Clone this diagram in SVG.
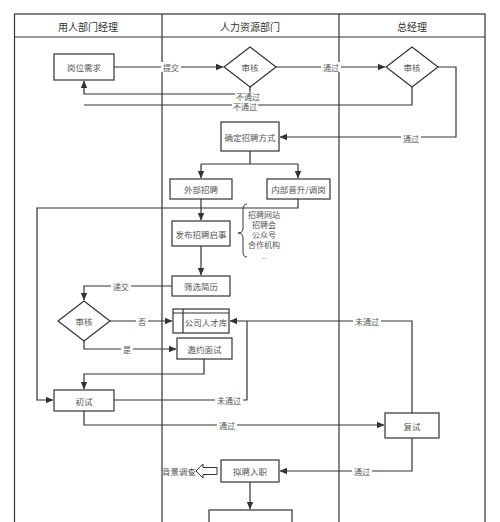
<svg xmlns="http://www.w3.org/2000/svg" width="500" height="522" viewBox="0 0 500 522">
<style>
.frame{fill:none;stroke:#333;stroke-width:1.2}
.node{fill:#fff;stroke:#333;stroke-width:1.2}
.t{font-family:"Noto Sans CJK SC","Noto Sans",sans-serif;font-size:8.5px;fill:#555;text-anchor:middle;dominant-baseline:central}
.s{font-family:"Noto Sans CJK SC","Noto Sans",sans-serif;font-size:8px;fill:#555;text-anchor:middle;dominant-baseline:central}
.h{font-family:"Noto Sans CJK SC","Noto Sans",sans-serif;font-size:10px;fill:#333;text-anchor:middle;dominant-baseline:central}
.c{fill:none;stroke:#333;stroke-width:1.2}
.lbl{font-family:"Noto Sans CJK SC","Noto Sans",sans-serif;font-size:8px;fill:#555;text-anchor:middle;dominant-baseline:central}
.lb{fill:#fff}
</style>
<defs>
<marker id="a" markerWidth="8" markerHeight="8" refX="7" refY="4" orient="auto" markerUnits="userSpaceOnUse">
<path d="M0,0.8 L7.5,4 L0,7.2 Z" fill="#333"/>
</marker>
</defs>
<rect width="500" height="522" fill="#fff"/>
<g id="lanes">
<rect class="frame" x="14.5" y="14" width="470.5" height="520"/>
<line class="frame" x1="14.5" y1="37" x2="485" y2="37"/>
<line class="frame" x1="162" y1="14" x2="162" y2="522"/>
<line class="frame" x1="339" y1="14" x2="339" y2="522"/>
<text class="h" x="88" y="26">用人部门经理</text>
<text class="h" x="250" y="26">人力资源部门</text>
<text class="h" x="412" y="26">总经理</text>
</g>
<g id="connectors">
<path class="c" d="M114,67 L223,67" marker-end="url(#a)"/>
<path class="c" d="M276,67 L385,67" marker-end="url(#a)"/>
<path class="c" d="M250,87 L250,94 L84,94 L84,81" marker-end="url(#a)"/>
<path class="c" d="M412,87 L412,105 L84,105"/>
<path class="c" d="M438,67 L456,67 L456,137 L280,137" marker-end="url(#a)"/>
<path class="c" d="M250,151 L250,164 M201,164 L298,164"/>
<path class="c" d="M201,164 L201,178" marker-end="url(#a)"/>
<path class="c" d="M298,164 L298,178" marker-end="url(#a)"/>
<path class="c" d="M201,199 L201,220" marker-end="url(#a)"/>
<path class="c" d="M298,199 L298,208 L37,208 L37,400 L53,400" marker-end="url(#a)"/>
<path class="c" d="M201,246 L201,275" marker-end="url(#a)"/>
<path class="c" d="M172,286 L84,286 L84,300" marker-end="url(#a)"/>
<path class="c" d="M110,321 L172,321" marker-end="url(#a)"/>
<path class="c" d="M84,341 L84,349 L176,349" marker-end="url(#a)"/>
<path class="c" d="M204,359 L204,374 L84,374 L84,389" marker-end="url(#a)"/>
<path class="c" d="M114,400 L247,400 L247,321"/>
<path class="c" d="M412,413 L412,321 L230,321" marker-end="url(#a)"/>
<path class="c" d="M84,411 L84,425 L384,425" marker-end="url(#a)"/>
<path class="c" d="M412,438 L412,471 L280,471" marker-end="url(#a)"/>
<path class="c" d="M250,482 L250,509" marker-end="url(#a)"/>
<path d="M217,467.5 L203,467.5 L203,464 L196,471 L203,478 L203,474.5 L217,474.5 Z" fill="#fff" stroke="#333" stroke-width="1"/>
<path d="M247,204 Q243,204 243,210 L243,228 Q243,233 238,233 Q243,233 243,238 L243,252 Q243,257 247,257" fill="none" stroke="#333" stroke-width="1"/>
<rect class="lb" x="161" y="62" width="20" height="10"/>
<text class="lbl" x="171" y="67">提交</text>
<rect class="lb" x="321" y="62" width="20" height="10"/>
<text class="lbl" x="331" y="67">通过</text>
<rect class="lb" x="235" y="92.5" width="26" height="8"/>
<text class="lbl" x="248" y="96.5">不通过</text>
<rect class="lb" x="232" y="102.5" width="26" height="8"/>
<text class="lbl" x="245" y="106.5">不通过</text>
<rect class="lb" x="401" y="133" width="20" height="10"/>
<text class="lbl" x="411" y="138">通过</text>
<rect class="lb" x="111" y="281" width="20" height="10"/>
<text class="lbl" x="121" y="286">递交</text>
<rect class="lb" x="136" y="316" width="12" height="10"/>
<text class="lbl" x="142" y="321">否</text>
<rect class="lb" x="121" y="344" width="12" height="10"/>
<text class="lbl" x="127" y="349">是</text>
<rect class="lb" x="215" y="395" width="28" height="10"/>
<text class="lbl" x="229" y="400">未通过</text>
<rect class="lb" x="353" y="316" width="28" height="10"/>
<text class="lbl" x="367" y="321">未通过</text>
<rect class="lb" x="217" y="420" width="20" height="10"/>
<text class="lbl" x="227" y="425">通过</text>
<rect class="lb" x="352" y="466" width="20" height="10"/>
<text class="lbl" x="362" y="471">通过</text>
</g>
<g id="n1"><rect class="node" x="54" y="54" width="60" height="26"/><text class="t" x="84" y="67">岗位需求</text></g>
<g id="n2"><path class="node" d="M250,47 L276,67 L250,87 L224,67 Z"/><text class="t" x="250" y="67">审核</text></g>
<g id="n3"><path class="node" d="M412,47 L438,67 L412,87 L386,67 Z"/><text class="t" x="412" y="67">审核</text></g>
<g id="n4"><rect class="node" x="221" y="122" width="58" height="29"/><text class="t" x="250" y="136.5">确定招聘方式</text></g>
<g id="n5"><rect class="node" x="170" y="179" width="62" height="20"/><text class="t" x="201" y="189">外部招聘</text></g>
<g id="n6"><rect class="node" x="267" y="179" width="63" height="20"/><text class="t" x="298.5" y="189">内部晋升/调岗</text></g>
<g id="n7"><rect class="node" x="172" y="221" width="58" height="25"/><text class="t" x="201" y="233.5">发布招聘启事</text></g>
<g id="n8"><text class="s" x="264" y="214.5">招聘网站</text><text class="s" x="264" y="224.5">招聘会</text><text class="s" x="264" y="234.5">公众号</text><text class="s" x="264" y="244.5">合作机构</text><text class="s" x="264" y="256" style="font-size:5px">...</text></g>
<g id="n9"><rect class="node" x="172" y="276" width="58" height="20"/><text class="t" x="201" y="286">筛选简历</text></g>
<g id="n10"><path class="node" d="M84,301 L110,321 L84,341 L58,321 Z"/><text class="t" x="84" y="321">审核</text></g>
<g id="n11"><rect class="node" x="173" y="309" width="56" height="24"/><line class="c" x1="183" y1="309" x2="183" y2="333"/><line class="c" x1="173" y1="313" x2="229" y2="313"/><text class="t" x="206" y="322">公司人才库</text></g>
<g id="n12"><rect class="node" x="177" y="338" width="55" height="21"/><text class="t" x="204.5" y="348.5">邀约面试</text></g>
<g id="n13"><rect class="node" x="54" y="390" width="60" height="21"/><text class="t" x="84" y="400.5">初试</text></g>
<g id="n14"><rect class="node" x="385" y="413" width="54" height="25"/><text class="t" x="412" y="425.5">复试</text></g>
<g id="n15"><rect class="node" x="221" y="460" width="58" height="22"/><text class="t" x="250" y="471">拟聘入职</text></g>
<g id="n16"><text class="t" x="179" y="471">背景调查</text></g>
<g id="n17"><rect class="node" x="209" y="510" width="83" height="30"/></g>
</svg>
